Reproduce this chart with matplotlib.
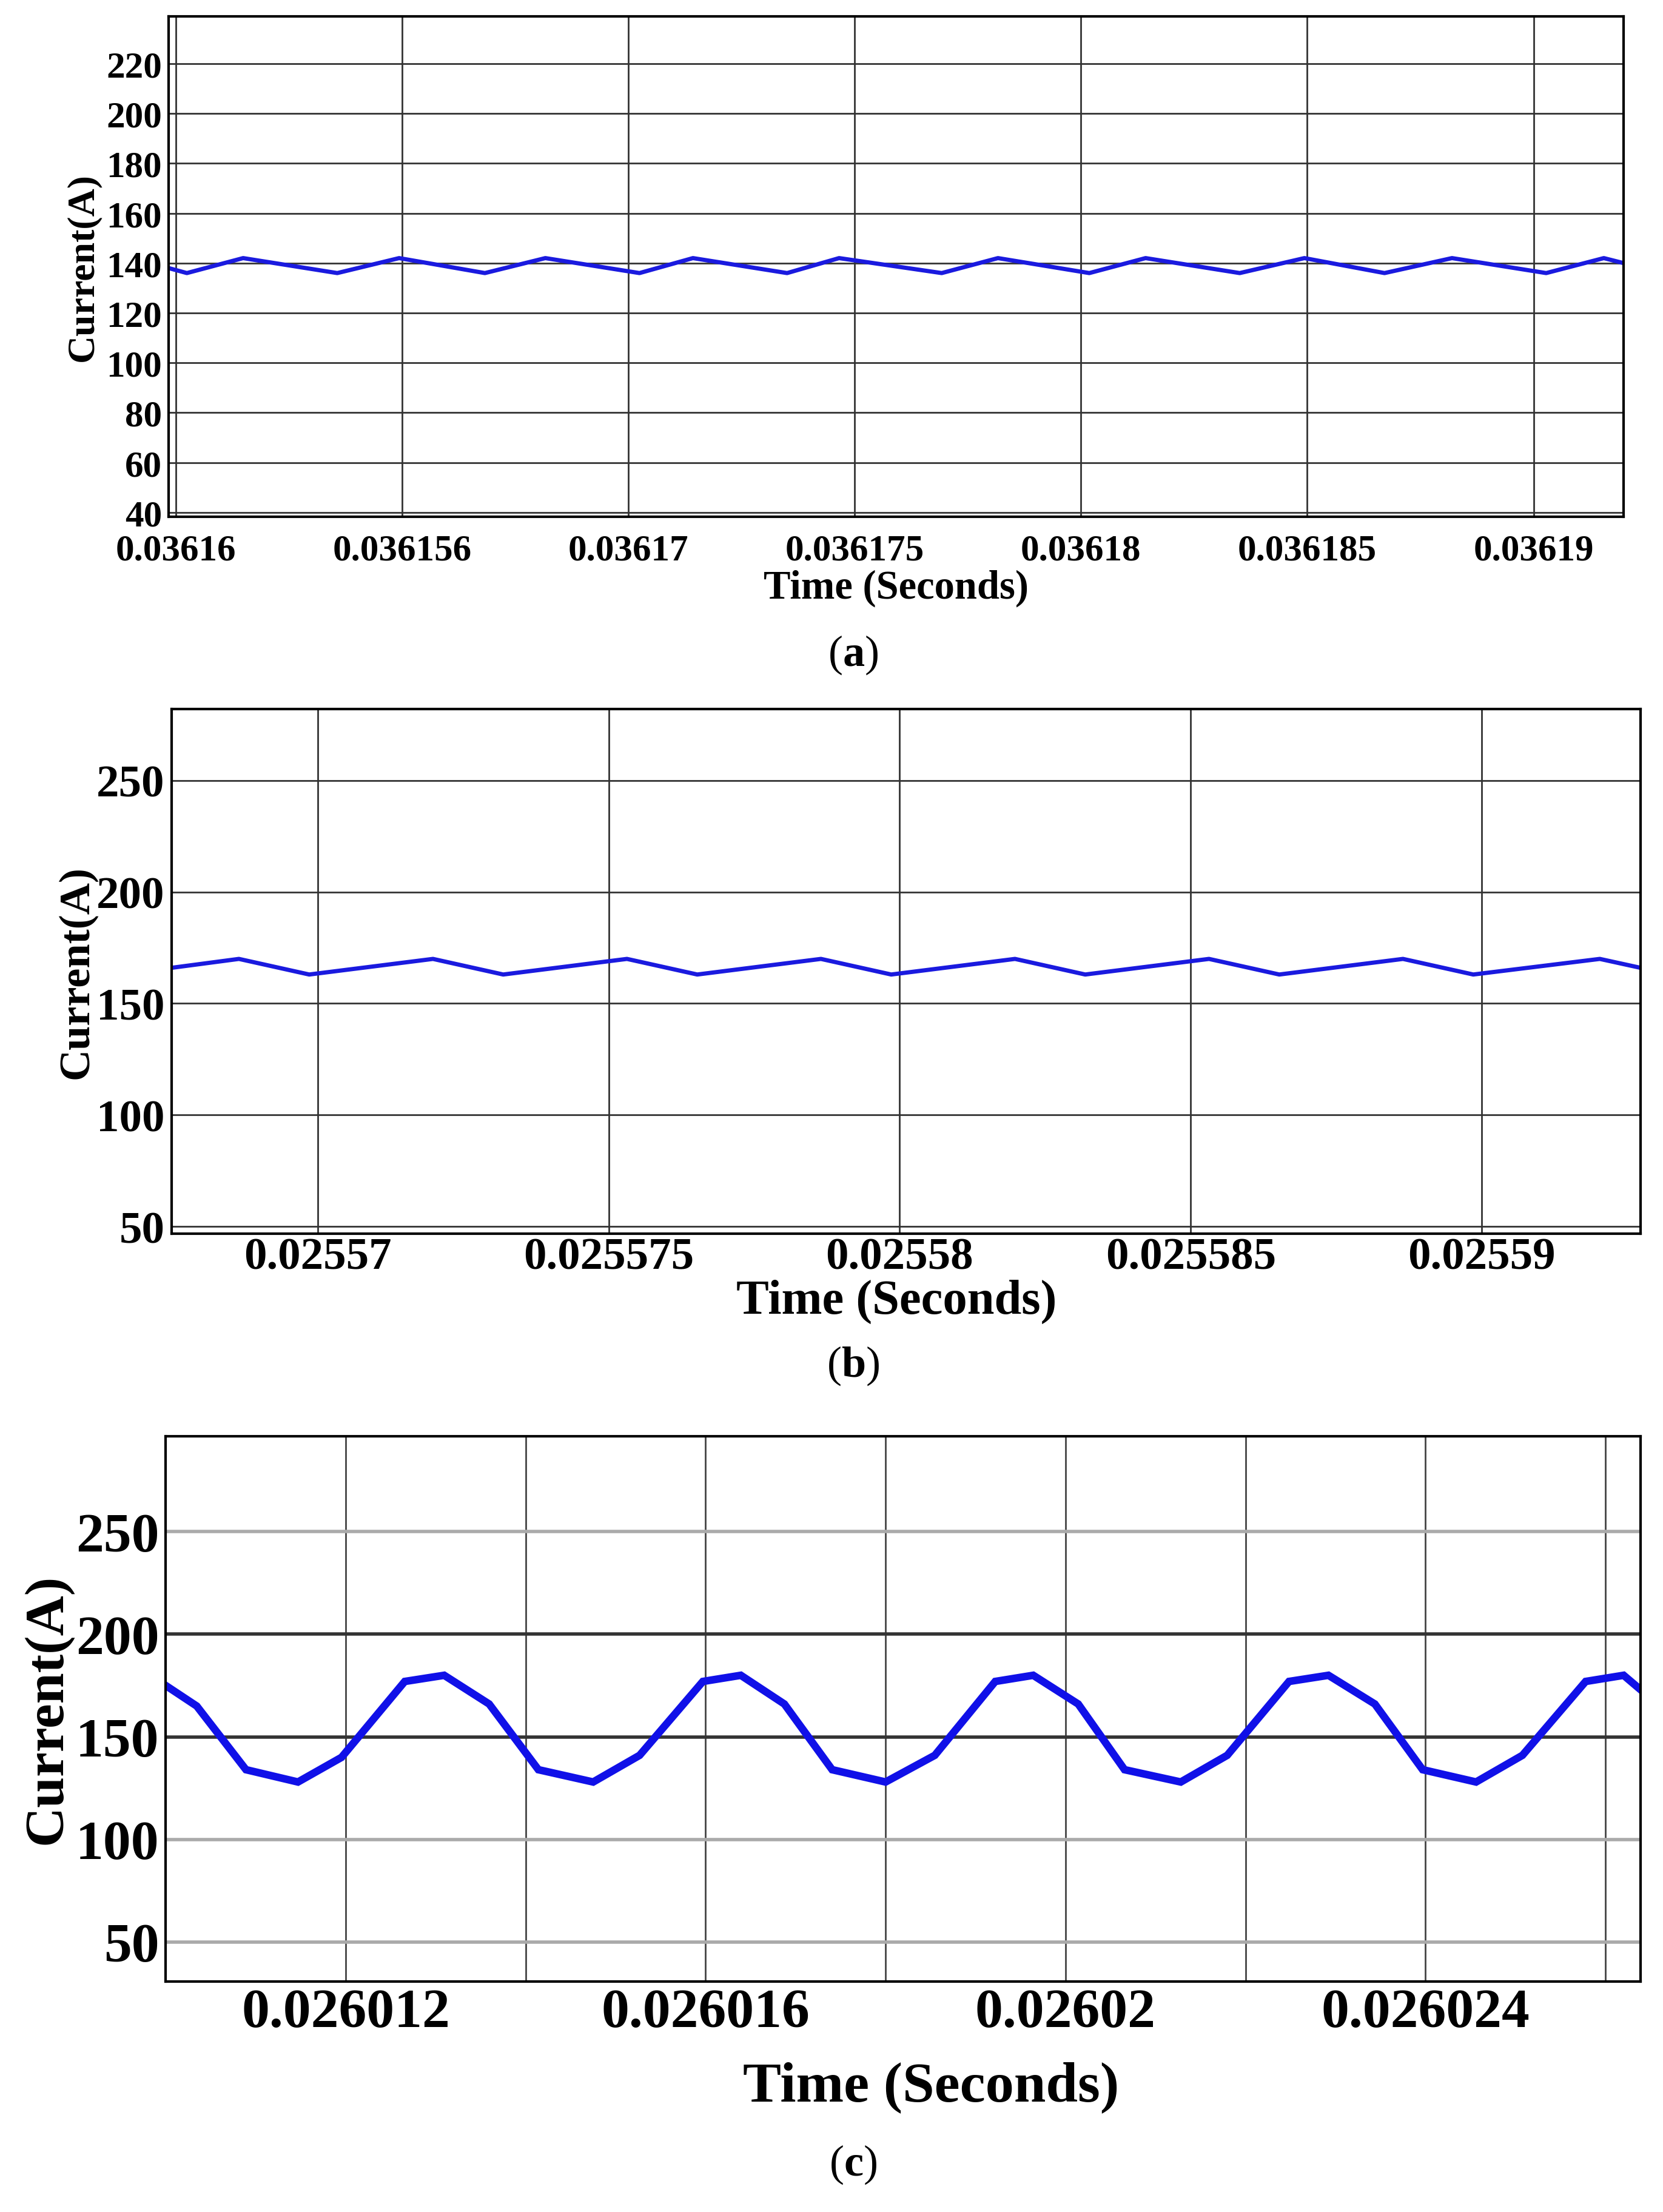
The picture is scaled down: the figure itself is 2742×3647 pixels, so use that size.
import numpy as np
import matplotlib
matplotlib.use("Agg")
import matplotlib.pyplot as plt

plt.rcParams['font.family'] = ['Liberation Serif', 'DejaVu Serif']
plt.rcParams['mathtext.fontset'] = 'custom'
plt.rcParams['mathtext.rm'] = 'Liberation Serif'
plt.rcParams['mathtext.bf'] = 'Liberation Serif:bold'

# ---- Panel (a) ----
a_base = 0.03616
a_off_us = [-0.155, 0.248, 1.491, 3.571, 4.938, 6.832, 8.168, 10.248, 11.429, 13.509, 14.658,
            16.925, 18.168, 20.186, 21.429, 23.509, 24.938, 26.708, 28.199, 30.280, 31.553, 31.988]
a_current = [138, 136, 142, 136, 142, 136, 142, 136, 142, 136, 142,
             136, 142, 136, 142, 136, 142, 136, 142, 136, 142, 140]
a_tick_off_us = [0, 5, 10, 15, 20, 25, 30]
a_tick_labels = ['0.03616', '0.036156', '0.03617', '0.036175', '0.03618', '0.036185', '0.03619']
a_yticks = [40, 60, 80, 100, 120, 140, 160, 180, 200, 220]

# ---- Panel (b) ----
b_base = 0.02557
b_off_us = [-2.512, -1.353, -0.145, 1.981, 3.188, 5.314, 6.522, 8.647, 9.855, 11.981, 13.188,
            15.314, 16.522, 18.647, 19.855, 22.029, 22.729]
b_current = [166, 170, 163, 170, 163, 170, 163, 170, 163, 170, 163,
             170, 163, 170, 163, 170, 166]
b_tick_off_us = [0, 5, 10, 15, 20]
b_tick_labels = ['0.02557', '0.025575', '0.02558', '0.025585', '0.02559']
b_yticks = [50, 100, 150, 200, 250]

# ---- Panel (c) ----
c_base = 0.026012
c_off_us = [-2.0, -1.656, -1.109, -0.531, -0.047, 0.656, 1.094, 1.594, 2.141, 2.75, 3.266,
            3.969, 4.391, 4.875, 5.406, 6.0, 6.547, 7.219, 7.641, 8.141, 8.656, 9.281,
            9.797, 10.484, 10.922, 11.438, 11.969, 12.563, 13.078, 13.781, 14.203, 14.391]
c_current = [175, 165, 134, 128, 140, 177, 180, 166, 134, 128, 141,
             177, 180, 166, 134, 128, 141, 177, 180, 166, 134, 128,
             141, 177, 180, 166, 134, 128, 141, 177, 180, 173]
c_grid_off_us = [0, 2, 4, 6, 8, 10, 12, 14]
c_tick_off_us = [0, 4, 8, 12]
c_tick_labels = ['0.026012', '0.026016', '0.02602', '0.026024']
c_yticks = [50, 100, 150, 200, 250]

fig = plt.figure(figsize=(27.42, 36.48), dpi=100)

def style(ax, fs, xpad=8):
    for s in ax.spines.values():
        s.set_linewidth(3)
        s.set_color('black')
    ax.tick_params(length=0, labelsize=fs, pad=8)
    ax.tick_params(axis='x', pad=xpad)
    for l in ax.get_xticklabels() + ax.get_yticklabels():
        l.set_fontweight('bold')

# (a)
ax = fig.add_axes([0.1014, 0.7662, 0.8749, 0.2262])
ta = a_base + np.array(a_off_us) * 1e-6
ax.plot(ta, a_current, color='#1a1adf', lw=5)
ax.set_xlim(a_base - 0.155e-6, a_base + 31.99e-6)
ax.set_ylim(38.3, 239)
ax.set_xticks(a_base + np.array(a_tick_off_us) * 1e-6)
ax.set_xticklabels(a_tick_labels)
ax.set_yticks(a_yticks)
ax.grid(True, color='#333333', lw=2)
style(ax, 44, xpad=20)
ax.set_ylabel('Current(A)', fontsize=46, fontweight='bold', labelpad=6)
fig.text(0.539, 0.734, 'Time (Seconds)', fontsize=48, fontweight='bold', ha='center', va='center')
fig.text(0.513, 0.704, r'($\mathbf{a}$)', fontsize=52, ha='center', va='center')

# (b)
ax = fig.add_axes([0.1031, 0.4422, 0.8834, 0.2370])
tb = b_base + np.array(b_off_us) * 1e-6
ax.plot(tb, b_current, color='#1a1adf', lw=5)
ax.set_xlim(b_base - 2.512e-6, b_base + 22.729e-6)
ax.set_ylim(46.8, 282)
ax.set_xticks(b_base + np.array(b_tick_off_us) * 1e-6)
ax.set_xticklabels(b_tick_labels)
ax.set_yticks(b_yticks)
ax.grid(True, color='#333333', lw=2)
style(ax, 54, xpad=4)
ax.set_ylabel('Current(A)', fontsize=52, fontweight='bold', labelpad=0)
fig.text(0.539, 0.4115, 'Time (Seconds)', fontsize=58, fontweight='bold', ha='center', va='center')
fig.text(0.513, 0.3825, r'($\mathbf{b}$)', fontsize=52, ha='center', va='center')

# (c)
ax = fig.add_axes([0.0997, 0.1042, 0.8868, 0.2465])
tc = c_base + np.array(c_off_us) * 1e-6
ax.plot(tc, c_current, color='#1010e8', lw=9, solid_joinstyle='miter')
ax.set_xlim(c_base - 2.0e-6, c_base + 14.391e-6)
ax.set_ylim(30.8, 296.6)
for g in c_grid_off_us:
    ax.axvline(c_base + g * 1e-6, color='#444444', lw=2, zorder=0)
for y in c_yticks:
    ax.axhline(y, color='#333333' if y in (150, 200) else '#aaaaaa', lw=4, zorder=0)
ax.set_xticks(c_base + np.array(c_tick_off_us) * 1e-6)
ax.set_xticklabels(c_tick_labels)
ax.set_yticks(c_yticks)
style(ax, 66)
ax.set_ylabel('Current(A)', fontsize=66, fontweight='bold', labelpad=4)
fig.text(0.56, 0.0565, 'Time (Seconds)', fontsize=68, fontweight='bold', ha='center', va='center')
fig.text(0.513, 0.0216, r'($\mathbf{c}$)', fontsize=52, ha='center', va='center')

fig.savefig('out.png', dpi=100, facecolor='white')
